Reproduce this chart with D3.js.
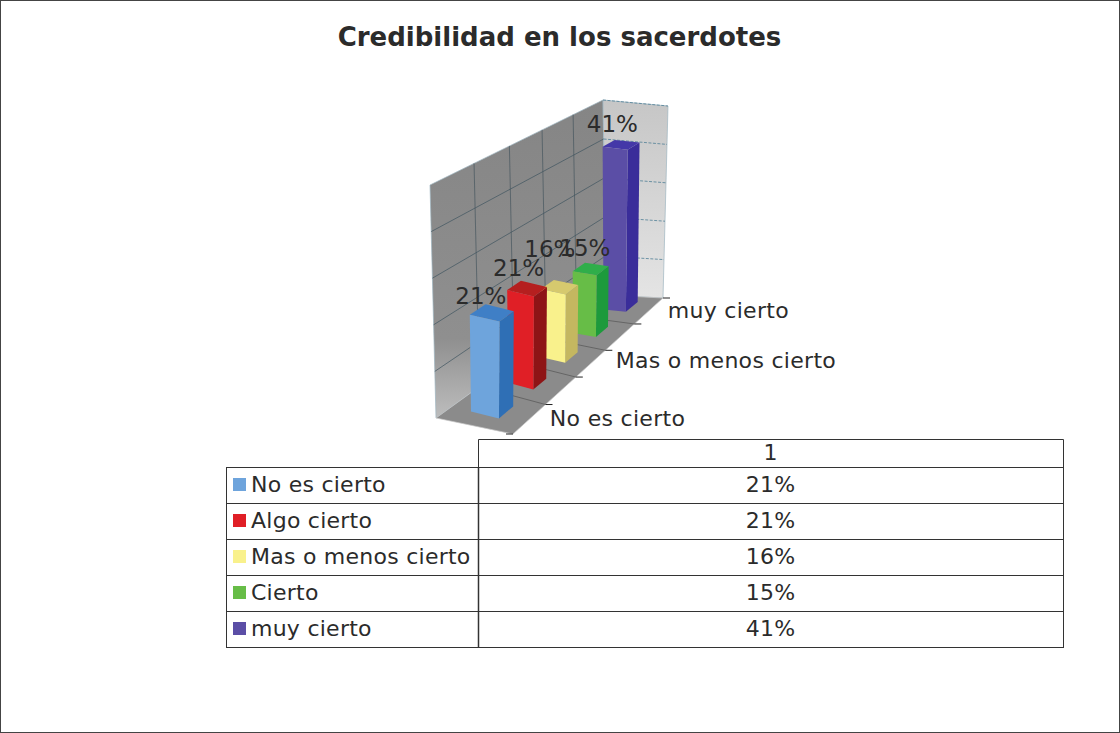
<!DOCTYPE html>
<html><head><meta charset="utf-8">
<script src="https://cdn.jsdelivr.net/npm/d3@7"></script>
<style>html,body{margin:0;background:#fff}svg{display:block}text{font-family:"DejaVu Sans",sans-serif;fill:#2b2b2b}</style>
</head><body><svg id="c" width="1120" height="733"></svg>
<script>
const chartTitle = "Credibilidad en los sacerdotes";
const categories = ["No es cierto","Algo cierto","Mas o menos cierto","Cierto","muy cierto"];
const values = [21,21,16,15,41];
const tableHeader = "1";
const valueTicks = [0,10,20,30,40,50];
const faceColors = ["#6ea4dc","#e01f26","#f9f18c","#67bd47","#5b4ea6"];
const sideColors = ["#2f6fb5","#8e1416","#c4b760","#1d9a3c","#3a2d9a"];
const topColors  = ["#3f7fc6","#b51f1f","#d6c96e","#2fae4a","#4438a8"];

const svg = d3.select("#c");
svg.append("rect").attr("x",.5).attr("y",.5).attr("width",1119).attr("height",732).attr("fill","#fff").attr("stroke","#444");
svg.append("text").attr("x",559.5).attr("y",46).attr("text-anchor","middle").attr("font-size",26).attr("font-weight","bold").text(chartTitle);

// box frame: [u][v][h] corners
const corner = {
  b:[[[436,418],[606,295]],[[513,434],[663,298]]],
  t:[[[430,185],[603,100]],[[518,200],[668,106]]]
};
const hNorm = d3.scaleLinear().domain([0,50]).range([0,1]);
const lerp = (a,b,t)=>a+(b-a)*t;
function project(u,v,val){
  const t=d3.scalePow().exponent(lerp(.85,.95,u)).domain([0,1]).range([0,1])(v), h=hNorm(val);
  const at=(k,i)=>lerp(lerp(corner[k][0][0][i],corner[k][0][1][i],t),lerp(corner[k][1][0][i],corner[k][1][1][i],t),u);
  return [lerp(at("b",0),at("t",0),h),lerp(at("b",1),at("t",1),h)];
}
const poly = d3.line();
const close = pts=>poly(pts)+"Z";

const defs=svg.append("defs");
const g1=defs.append("linearGradient").attr("id","leftW").attr("x1",0).attr("x2",0).attr("y1",0).attr("y2",1);
g1.append("stop").attr("offset",0).attr("stop-color","#858585");
g1.append("stop").attr("offset",.75).attr("stop-color","#8f8f8f");
g1.append("stop").attr("offset",1).attr("stop-color","#bdbdbd");
const g2=defs.append("linearGradient").attr("id","backW").attr("x1",0).attr("x2",0).attr("y1",0).attr("y2",1);
g2.append("stop").attr("offset",0).attr("stop-color","#c6c6c6");
g2.append("stop").attr("offset",1).attr("stop-color","#e4e4e4");

const plot=svg.append("g");
plot.append("path").attr("d",close([project(0,0,0),project(0,1,0),project(0,1,50),project(0,0,50)])).attr("fill","url(#leftW)").attr("stroke","#9db4c0").attr("stroke-width",.7);
plot.append("path").attr("d",close([project(0,1,0),project(1,1,0),project(1,1,50),project(0,1,50)])).attr("fill","url(#backW)").attr("stroke","#9db4c0").attr("stroke-width",.7);
plot.append("path").attr("d",close([project(0,0,0),project(1,0,0),project(1,1,0),project(0,1,0)])).attr("fill","#8b8b8b").attr("stroke","#c8c8c8").attr("stroke-width",.7);

// value gridlines
plot.selectAll(".gl").data(valueTicks.slice(1,-1)).join("path").attr("class","gl").attr("fill","none").attr("stroke","#3f5560").attr("stroke-width",.7)
  .attr("d",d=>poly([project(0,0,d),project(0,1,d)]));
plot.selectAll(".gb").data(valueTicks.slice(1)).join("path").attr("class","gb").attr("fill","none").attr("stroke","#4f7f95").attr("stroke-width",.8).attr("stroke-dasharray","3 1.5")
  .attr("d",d=>poly([project(0,1,d),project(1,1,d)]));
const slot = d3.scaleBand().domain(d3.range(categories.length)).range([0,1]);
const barSlot = d3.scaleBand().domain(d3.range(categories.length)).range([0,1.02]);
// vertical wall lines + floor lines
plot.selectAll(".gv").data(d3.range(1,categories.length)).join("path").attr("class","gv").attr("fill","none").attr("stroke","#46565e").attr("stroke-width",.7)
  .attr("d",i=>poly([project(0,slot(i),0),project(0,slot(i),50)]));
plot.selectAll(".gf").data(d3.range(1,categories.length)).join("path").attr("class","gf").attr("fill","none").attr("stroke","#555").attr("stroke-width",.7)
  .attr("d",i=>poly([project(0,slot(i),0),project(1,slot(i),0)]));

// bars back to front
const uA=.27,uB=.66,inset=barSlot.bandwidth()*.3;
const order=d3.range(categories.length).reverse();
const bars=plot.selectAll(".bar").data(order).join("g").attr("class","bar");
bars.each(function(i){
  const g=d3.select(this), a=barSlot(i)+inset, b=barSlot(i)+barSlot.bandwidth()-inset, h=values[i];
  g.append("path").attr("d",close([project(uB,a,0),project(uB,b,0),project(uB,b,h),project(uB,a,h)])).attr("fill",sideColors[i]);
  g.append("path").attr("d",close([project(uA,a,h),project(uB,a,h),project(uB,b,h),project(uA,b,h)])).attr("fill",topColors[i]);
  g.append("path").attr("d",close([project(uA,a,0),project(uB,a,0),project(uB,a,h),project(uA,a,h)])).attr("fill",faceColors[i]);
});
// data labels: small per-label nudges, the reference places them by hand
const labelDy = [-9,-13,-31,-13,-13], labelDx = [-14,-11,-12,-8,-11];
svg.append("g").selectAll("text").data(d3.range(categories.length)).join("text")
  .attr("font-size",23).attr("text-anchor","middle")
  .attr("x",i=>project(.5,barSlot(i)+barSlot.bandwidth()/2,values[i])[0]+labelDx[i])
  .attr("y",i=>project(.5,barSlot(i)+barSlot.bandwidth()/2,values[i])[1]+labelDy[i])
  .text(i=>values[i]+"%");
// depth axis ticks
svg.append("g").selectAll("path").data(d3.range(categories.length+1)).join("path").attr("stroke","#222").attr("stroke-width",1)
  .attr("d",i=>{const p=project(1,i/categories.length,0);return i==0?poly([[p[0]-7,p[1]],p]):poly([p,[p[0]+7,p[1]]]);});
const axisDx = {0:20,2:25,4:19}, axisDy = {0:1,2:-2,4:1};
svg.append("g").selectAll("text").data(d3.range(0,categories.length,2)).join("text").attr("font-size",22).attr("letter-spacing",.3).attr("dominant-baseline","middle")
  .attr("x",i=>project(1,slot(i)+slot.bandwidth()/2,0)[0]+axisDx[i])
  .attr("y",i=>project(1,slot(i)+slot.bandwidth()/2,0)[1]+axisDy[i])
  .text(i=>categories[i]);

// data table
const xT=d3.scaleLinear().domain([0,1,2]).range([226,478,1063]);
const yT=d3.scaleBand().domain(d3.range(categories.length)).range([467,647]);
const tb=svg.append("g");
tb.append("path").attr("fill","none").attr("stroke","#333").attr("stroke-width",1)
  .attr("d",`M${xT(1)+.5},467.5V439.5H${xT(2)+.5}V467.5`);
tb.selectAll("rect").data(d3.range(categories.length)).join("rect").attr("x",xT(0)+.5).attr("y",i=>yT(i)+.5).attr("width",xT(2)-xT(0)).attr("height",yT.bandwidth()).attr("fill","none").attr("stroke","#333");
tb.append("line").attr("x1",xT(1)+.5).attr("x2",xT(1)+.5).attr("y1",467).attr("y2",647).attr("stroke","#333").attr("stroke-width",1.5);
tb.append("text").attr("x",(xT(1)+xT(2))/2).attr("y",454).attr("dominant-baseline","middle").attr("text-anchor","middle").attr("font-size",22).text(tableHeader);
const rows=tb.selectAll(".r").data(d3.range(categories.length)).join("g").attr("class","r").attr("transform",i=>`translate(0,${yT(i)+yT.bandwidth()/2})`);
rows.append("rect").attr("x",233).attr("y",-7).attr("width",13).attr("height",13).attr("fill",i=>faceColors[i]);
rows.append("text").attr("x",251).attr("y",1).attr("dominant-baseline","middle").attr("letter-spacing",.25).attr("font-size",22).text(i=>categories[i]);
rows.append("text").attr("x",(xT(1)+xT(2))/2).attr("y",1).attr("dominant-baseline","middle").attr("text-anchor","middle").attr("letter-spacing",.25).attr("font-size",22).text(i=>values[i]+"%");
</script></body></html>
